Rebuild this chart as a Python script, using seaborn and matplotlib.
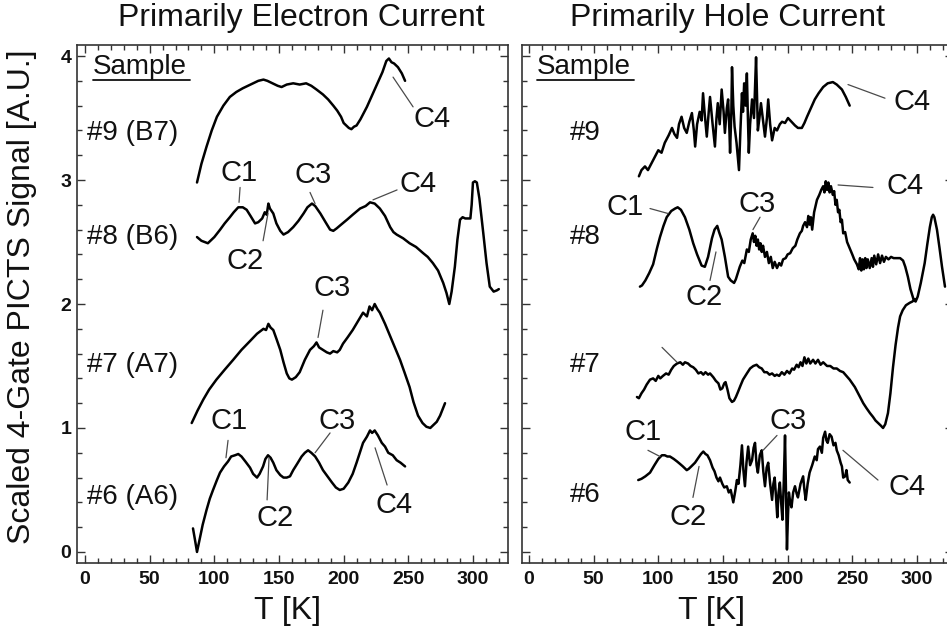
import numpy as np
import matplotlib
matplotlib.use("Agg")
import matplotlib.pyplot as plt
from matplotlib.ticker import MultipleLocator
import seaborn as sns

sns.set_style("ticks")
plt.rcParams['font.family'] = ['Liberation Sans', 'DejaVu Sans']

# ---------------- data (T [K], scaled signal) ----------------
panel_titles = ["Primarily Electron Current", "Primarily Hole Current"]
x_ticks = [0, 50, 100, 150, 200, 250, 300]
y_ticks = [0, 1, 2, 3, 4]
left_samples = ["#9 (B7)", "#8 (B6)", "#7 (A7)", "#6 (A6)"]
right_samples = ["#9", "#8", "#7", "#6"]

# Primarily electron current
e9 = [(86.6, 2.98), (90, 3.13), (94, 3.27), (98, 3.40), (102, 3.51), (107, 3.60), (112, 3.67),
      (117, 3.71), (122, 3.74), (128, 3.77), (134, 3.80), (138, 3.81), (141, 3.80), (145, 3.78),
      (149, 3.76), (152, 3.75), (156, 3.77), (161, 3.78), (166, 3.77), (171, 3.78), (175, 3.76),
      (179, 3.73), (184, 3.69), (188, 3.65), (192, 3.60), (195, 3.56), (198, 3.51), (200, 3.46),
      (202, 3.44), (204, 3.42), (206, 3.41), (208, 3.43), (210, 3.44), (213, 3.49), (216, 3.55),
      (218, 3.59), (221, 3.66), (224, 3.73), (227, 3.80), (230, 3.87), (233, 3.96), (235, 3.98),
      (237, 3.95), (239, 3.94), (242, 3.91), (245, 3.86), (247.5, 3.80)]
e8 = [(86.6, 2.54), (90, 2.51), (95, 2.49), (100, 2.54), (104.5, 2.60), (108, 2.65), (112, 2.70),
      (115, 2.74), (118.5, 2.78), (122, 2.78), (125, 2.76), (128, 2.71), (131.5, 2.65), (134, 2.66),
      (137, 2.69), (139, 2.74), (140.5, 2.72), (141.8, 2.81), (143, 2.77), (145.6, 2.73), (148, 2.65),
      (151, 2.59), (153.5, 2.56), (157, 2.58), (161, 2.62), (165, 2.67), (169, 2.73), (172, 2.78),
      (175.5, 2.81), (178, 2.79), (182, 2.73), (186, 2.66), (189.5, 2.60), (192, 2.59), (194.6, 2.61),
      (198, 2.64), (202.6, 2.68), (207, 2.72), (212.7, 2.77), (217, 2.79), (220.4, 2.82), (224, 2.81),
      (228, 2.77), (232, 2.71), (236, 2.62), (238.5, 2.58), (241, 2.56), (246, 2.53), (251, 2.49),
      (256, 2.46), (261.5, 2.41), (265, 2.38), (269, 2.33), (273, 2.27), (277, 2.17), (279.5, 2.09),
      (281.7, 2.00), (283.5, 2.10), (286, 2.30), (288, 2.52), (290, 2.68), (292, 2.70), (294, 2.69),
      (296, 2.69), (298, 2.69), (299, 2.80), (300, 2.98), (301.5, 2.99), (303, 2.98), (305, 2.85),
      (308, 2.57), (310.5, 2.33), (313, 2.14), (316, 2.10), (318.5, 2.11), (320, 2.12)]
e7 = [(82.5, 1.04), (87, 1.14), (91.5, 1.23), (96, 1.31), (101.6, 1.39), (108, 1.47), (114.6, 1.55),
      (121, 1.63), (127.5, 1.70), (133, 1.76), (138, 1.80), (140, 1.79), (141.8, 1.84), (143.5, 1.81),
      (145.6, 1.79), (148, 1.72), (151, 1.63), (153.5, 1.53), (156, 1.44), (158, 1.40), (160, 1.39),
      (163, 1.41), (166, 1.45), (170, 1.55), (174, 1.63), (177, 1.66), (179, 1.69), (181, 1.65),
      (184, 1.63), (187, 1.61), (189.5, 1.60), (192, 1.62), (195, 1.61), (197, 1.63), (199.5, 1.68),
      (203, 1.73), (207, 1.79), (211, 1.86), (215, 1.93), (218, 1.90), (220, 1.98), (222, 1.95),
      (224, 2.00), (226, 1.96), (228, 1.93), (232, 1.84), (236, 1.74), (240, 1.64), (243.6, 1.55),
      (247, 1.45), (251, 1.33), (254, 1.21), (257.5, 1.10), (261, 1.04), (264, 1.01), (267, 1.00),
      (269, 1.02), (272, 1.05), (274.6, 1.10), (278.4, 1.20)]
e6 = [(83.5, 0.19), (85, 0.10), (86.6, 0.00), (88, 0.07), (89, 0.12), (91, 0.22), (94, 0.34),
      (96.5, 0.43), (99, 0.50), (102, 0.58), (104.4, 0.64), (107.5, 0.69), (110.6, 0.73), (113, 0.77),
      (116, 0.78), (118.5, 0.79), (121, 0.77), (124, 0.73), (127.6, 0.68), (130, 0.63), (133, 0.60),
      (135, 0.63), (137.7, 0.69), (139.5, 0.75), (141.5, 0.78), (143.5, 0.76), (145.6, 0.72),
      (148, 0.66), (151, 0.62), (153.5, 0.60), (156, 0.60), (158.5, 0.61), (161, 0.66), (164, 0.71),
      (167.5, 0.77), (170, 0.80), (172.5, 0.82), (175, 0.80), (178, 0.77), (181, 0.72), (184, 0.66),
      (187.5, 0.61), (191, 0.56), (194, 0.52), (197, 0.50), (200, 0.51), (203.6, 0.56), (207, 0.63),
      (210, 0.72), (212.5, 0.80), (215, 0.88), (218, 0.93), (220.4, 0.98), (222, 0.96), (224, 0.98),
      (226.5, 0.94), (229.5, 0.88), (232, 0.85), (234.5, 0.80), (238, 0.78), (241, 0.74), (244, 0.72),
      (247.5, 0.69)]

# Primarily hole current
h9 = [(85, 3.03), (87, 3.08), (89.7, 3.11), (92, 3.08), (95, 3.14), (97.5, 3.19), (100, 3.24),
      (102.5, 3.22), (105, 3.30), (108, 3.36), (110.6, 3.42), (112.5, 3.37), (114.5, 3.34),
      (116, 3.45), (118, 3.51), (120, 3.42), (122, 3.38), (124, 3.47), (126, 3.54), (127.5, 3.40),
      (128.5, 3.27), (130, 3.45), (132, 3.55), (133.5, 3.48), (134.6, 3.70), (136, 3.52),
      (137.5, 3.35), (139, 3.55), (140, 3.67), (142, 3.45), (143.8, 3.27), (145, 3.50), (146, 3.62),
      (147.5, 3.45), (149, 3.73), (150.5, 3.55), (151.5, 3.38), (153, 3.58), (154, 3.65),
      (155, 3.40), (155.5, 3.22), (156.5, 3.55), (157, 3.91), (158, 3.60), (159, 3.43),
      (160.5, 3.30), (162.4, 3.08), (163.5, 3.40), (164.7, 3.70), (165.5, 3.55), (166.4, 3.78),
      (167.5, 3.60), (168.5, 3.86), (169.3, 3.50), (170, 3.22), (171, 3.45), (172.5, 3.65),
      (174, 3.50), (175.6, 3.99), (176.3, 3.70), (177, 3.40), (178.2, 3.50), (179.4, 3.62),
      (181, 3.48), (182.5, 3.35), (184, 3.50), (185, 3.65), (186.5, 3.45), (188, 3.32), (190, 3.42),
      (191.8, 3.40), (194, 3.45), (195.7, 3.47), (198, 3.46), (200.3, 3.50), (203, 3.47),
      (205.7, 3.44), (208, 3.42), (211, 3.42), (213, 3.46), (215, 3.51), (218, 3.58), (221, 3.65),
      (224, 3.70), (227.5, 3.75), (231, 3.78), (235, 3.79), (238, 3.77), (242, 3.73), (245, 3.67),
      (248, 3.60)]
h8 = [(85.8, 2.14), (87.4, 2.15), (90, 2.19), (93, 2.25), (96, 2.32), (99, 2.45), (101.3, 2.54),
      (104, 2.63), (106.5, 2.70), (110, 2.75), (113, 2.77), (115, 2.78), (117.5, 2.76), (120.6, 2.70),
      (124, 2.60), (127, 2.49), (130, 2.40), (133.5, 2.31), (136, 2.30), (138.5, 2.38), (141.5, 2.53),
      (143.5, 2.60), (145.6, 2.63), (147, 2.58), (149, 2.52), (151.5, 2.38), (154, 2.22), (156, 2.19),
      (158.6, 2.17), (160, 2.20), (163, 2.30), (165, 2.35), (166.5, 2.33), (168.5, 2.44), (170, 2.42),
      (171.5, 2.52), (173, 2.57), (174, 2.50), (175, 2.55), (176, 2.47), (177, 2.52), (178, 2.44),
      (179, 2.49), (180, 2.42), (181, 2.47), (182.5, 2.38), (184, 2.42), (185.5, 2.33), (187, 2.38),
      (188.5, 2.29), (190, 2.34), (191.8, 2.29), (193.5, 2.33), (195, 2.31), (196.5, 2.36),
      (198.5, 2.37), (200, 2.40), (202, 2.41), (204, 2.45), (206, 2.47), (207.5, 2.52), (209.5, 2.57),
      (211, 2.59), (212, 2.63), (213.5, 2.66), (215, 2.62), (216, 2.71), (217, 2.64), (218, 2.70),
      (219, 2.60), (220.5, 2.74), (222.7, 2.84), (224.5, 2.88), (226, 2.92), (227.5, 2.95),
      (228.5, 2.90), (229.5, 2.99), (230.5, 2.92), (231.5, 2.98), (232.5, 2.90), (233.5, 2.95),
      (235, 2.88), (236, 2.91), (237, 2.80), (238, 2.84), (239, 2.74), (240, 2.76), (241, 2.66),
      (242, 2.68), (243, 2.57), (244.5, 2.58), (246, 2.50), (248, 2.45), (250, 2.40), (251.5, 2.36),
      (253.6, 2.32), (255, 2.28), (256, 2.37), (257, 2.27), (258, 2.36), (259, 2.28), (260, 2.37),
      (261, 2.29), (262, 2.36), (263.5, 2.29), (265, 2.37), (266, 2.30), (267, 2.39), (268.5, 2.32),
      (270, 2.40), (271.5, 2.33), (273, 2.39), (274.5, 2.34), (276, 2.38), (278, 2.36), (280, 2.38),
      (282, 2.37), (284.6, 2.37), (287, 2.37), (289.3, 2.35), (291, 2.30), (293, 2.22), (295, 2.12),
      (297.6, 2.03), (299, 2.02), (300.6, 2.06), (303, 2.17), (306, 2.33), (308, 2.48), (310, 2.62),
      (311.5, 2.70), (312.5, 2.72), (313.5, 2.70), (315.5, 2.60), (317.5, 2.45), (319.4, 2.30),
      (321.7, 2.14)]
h7 = [(83.5, 1.25), (85, 1.24), (87, 1.28), (89, 1.31), (91, 1.35), (93.6, 1.39), (96, 1.40),
      (98, 1.38), (100, 1.42), (101.5, 1.40), (103.6, 1.42), (106, 1.44), (108, 1.43), (110, 1.47),
      (112, 1.50), (114.5, 1.52), (117, 1.53), (119, 1.51), (120.6, 1.53), (123, 1.52), (125, 1.50),
      (127, 1.49), (129, 1.47), (131, 1.44), (133, 1.45), (134.8, 1.43), (136.5, 1.45), (138.5, 1.43),
      (140, 1.44), (142.5, 1.41), (144.5, 1.38), (146.5, 1.36), (148, 1.31), (149.5, 1.32),
      (151, 1.36), (152, 1.37), (153.5, 1.31), (155, 1.24), (157, 1.21), (158.5, 1.22), (160, 1.25),
      (161.6, 1.29), (163.5, 1.34), (165.5, 1.39), (168.5, 1.44), (171, 1.48), (173.5, 1.50),
      (176, 1.51), (178, 1.49), (180, 1.48), (182, 1.45), (184, 1.45), (186, 1.43), (188, 1.44),
      (190, 1.42), (191.6, 1.43), (193.5, 1.42), (195.5, 1.45), (197.5, 1.43), (199.5, 1.46),
      (201.5, 1.44), (203.5, 1.48), (205, 1.47), (207, 1.51), (208.5, 1.49), (210, 1.53), (211.5, 1.50),
      (213, 1.57), (214.5, 1.52), (216, 1.56), (217.5, 1.52), (219.7, 1.55), (221.5, 1.52),
      (223.5, 1.55), (225.5, 1.51), (227.5, 1.53), (230.5, 1.50), (233, 1.50), (235.5, 1.48),
      (238, 1.48), (240.5, 1.46), (243, 1.45), (245.5, 1.42), (248, 1.39), (250, 1.36), (252, 1.33),
      (254, 1.29), (256, 1.25), (258.5, 1.20), (261, 1.16), (263.7, 1.12), (266, 1.09), (268, 1.06),
      (270, 1.04), (272, 1.02), (273.8, 1.00), (275.5, 1.03), (277.6, 1.12), (279.5, 1.28),
      (281.5, 1.49), (283.5, 1.67), (285.4, 1.81), (287, 1.90), (289, 1.95), (291.5, 1.99),
      (294.5, 2.01), (296.5, 2.02), (298.5, 2.04)]
h6 = [(84.5, 0.58), (87, 0.59), (90, 0.61), (93.6, 0.64), (97, 0.70), (100, 0.75), (102.8, 0.78),
      (105, 0.78), (107, 0.77), (109, 0.77), (112, 0.75), (114.5, 0.73), (116.8, 0.71), (119, 0.69),
      (121, 0.67), (122, 0.66), (123.5, 0.67), (125.5, 0.69), (128.4, 0.72), (131, 0.76), (133, 0.79),
      (134.8, 0.81), (136.5, 0.79), (138, 0.78), (140, 0.74), (142, 0.68), (143.5, 0.65), (145, 0.60),
      (146.5, 0.57), (147.7, 0.60), (149.5, 0.55), (151, 0.52), (153, 0.53), (154.5, 0.48),
      (156, 0.50), (158, 0.40), (159.5, 0.49), (160.8, 0.58), (162, 0.55), (163.5, 0.70),
      (164.7, 0.86), (165.8, 0.66), (167, 0.53), (168.2, 0.72), (169.5, 0.85), (171, 0.70),
      (172.5, 0.74), (173.7, 0.84), (174.8, 0.88), (176, 0.70), (177, 0.64), (178.5, 0.78),
      (180, 0.82), (181.2, 0.65), (182.5, 0.53), (183.8, 0.68), (185, 0.72), (186.5, 0.55),
      (188, 0.42), (189, 0.55), (190, 0.60), (191, 0.45), (192, 0.28), (193, 0.48), (194, 0.56),
      (195, 0.40), (196, 0.26), (197, 0.55), (198, 0.94), (198.8, 0.45), (199.5, 0.02), (200.3, 0.30),
      (201, 0.48), (202, 0.40), (203, 0.36), (204.3, 0.48), (205.7, 0.53), (207, 0.47), (208, 0.44),
      (210, 0.55), (212, 0.61), (213, 0.50), (214, 0.42), (215.5, 0.55), (217, 0.64), (219, 0.70),
      (221, 0.77), (222.5, 0.74), (223.5, 0.83), (225, 0.85), (226.5, 0.80), (227.5, 0.92),
      (229, 0.97), (230, 0.90), (231, 0.88), (232.5, 0.95), (234, 0.93), (235.5, 0.86), (237, 0.88),
      (238, 0.82), (239.5, 0.78), (241, 0.72), (242, 0.69), (243, 0.60), (244.5, 0.61),
      (245.5, 0.66), (246.5, 0.58), (248, 0.56)]

electron_curves = [e9, e8, e7, e6]
hole_curves = [h9, h8, h7, h6]

# ---------------- figure ----------------
W, H = 947, 634
fig = plt.figure(figsize=(W / 100, H / 100), dpi=100)
fig.patch.set_facecolor('white')

def ax_rect(left_px, top_px, w_px, h_px):
    return [left_px / W, (H - top_px - h_px) / H, w_px / W, h_px / H]

ax1 = fig.add_axes(ax_rect(77, 45, 431, 518))
ax2 = fig.add_axes(ax_rect(522, 45, 431, 518))

TXT = '#111111'
LINE_C = '#4a4a4a'

for ax, curves in ((ax1, electron_curves), (ax2, hole_curves)):
    for c in curves:
        arr = np.array(c)
        sns.lineplot(x=arr[:, 0], y=arr[:, 1], ax=ax, color='black', lw=1.8,
                     estimator=None, sort=False)

ax1.set_xlim(-6.2, 327.1)
ax2.set_xlim(-5.4, 327.9)
for ax in (ax1, ax2):
    ax.set_ylim(-0.089, 4.089)
    ax.set_xticks(x_ticks)
    ax.set_yticks(y_ticks)
    ax.xaxis.set_minor_locator(MultipleLocator(10))
    ax.yaxis.set_minor_locator(MultipleLocator(0.2))
    ax.tick_params(which='both', direction='in', top=True, right=True,
                   color='#333333', width=1.0)
    ax.tick_params(which='major', length=6)
    ax.tick_params(which='minor', length=3.5)
    ax.tick_params(axis='x', which='major', labelsize=14, pad=6, labelcolor=TXT)
    ax.tick_params(axis='y', which='major', labelsize=14, pad=4, labelcolor=TXT)
    for lab in ax.get_xticklabels() + ax.get_yticklabels():
        lab.set_fontweight('bold')
    for s in ax.spines.values():
        s.set_linewidth(1.2)
        s.set_color('#333333')
    ax.set_xlabel('')
    ax.set_ylabel('')
ax2.tick_params(axis='y', labelleft=False)

# titles and axis labels
fig.text(301 / W, 1 - 18 / H, panel_titles[0], ha='center', va='center', fontsize=23, color=TXT)
fig.text(727 / W, 1 - 18 / H, panel_titles[1], ha='center', va='center', fontsize=23, color=TXT)
fig.text(288 / W, 1 - 611 / H, 'T [K]', ha='center', va='center', fontsize=23, color=TXT)
fig.text(712 / W, 1 - 611 / H, 'T [K]', ha='center', va='center', fontsize=23, color=TXT)
fig.text(22 / W, 1 - 297 / H, 'Scaled 4-Gate PICTS Signal [A.U.]', ha='center', va='center',
         rotation=90, fontsize=23, color=TXT)

# "Sample" headers with underline
for ax, x0 in ((ax1, 0.037), (ax2, 0.035)):
    ax.text(x0, 0.958, 'Sample', transform=ax.transAxes, ha='left', va='center',
            fontsize=20, color=TXT)
    ax.plot([x0, x0 + 0.225], [0.932, 0.932], transform=ax.transAxes, color=TXT, lw=1.3)

sample_y = [3.38, 2.54, 1.51, 0.44]
for lab, yy in zip(left_samples, sample_y):
    ax1.text(1.5, yy, lab, ha='left', va='center', fontsize=20, color=TXT)
for lab, yy in zip(right_samples, [3.38, 2.54, 1.51, 0.46]):
    ax2.text(31.7, yy, lab, ha='left', va='center', fontsize=20, color=TXT)

def callout(ax, text, txy, p0, p1):
    if text:
        ax.text(txy[0], txy[1], text, ha='center', va='center', fontsize=21, color=TXT)
    ax.annotate('', xy=p1, xytext=p0,
                arrowprops=dict(arrowstyle='-', color=LINE_C, lw=0.9, shrinkA=0, shrinkB=0))

# electron panel callouts
callout(ax1, 'C4', (268.4, 3.49), (253.7, 3.59), (238.2, 3.83))
callout(ax1, 'C1', (119.1, 3.06), (119.9, 2.94), (119.1, 2.82))
callout(ax1, 'C3', (176.3, 3.04), (174.0, 2.90), (177.9, 2.81))
callout(ax1, 'C4', (257.5, 2.97), (241.3, 2.92), (222.7, 2.84))
callout(ax1, 'C2', (123.7, 2.35), (137.7, 2.51), (141.5, 2.73))
callout(ax1, 'C3', (191.0, 2.13), (184.0, 1.95), (180.2, 1.73))
callout(ax1, 'C1', (111.4, 1.06), (110.6, 0.90), (109.0, 0.76))
callout(ax1, 'C3', (194.9, 1.06), (189.5, 0.96), (177.9, 0.80))
callout(ax1, 'C2', (147.0, 0.27), (140.8, 0.42), (142.3, 0.76))
callout(ax1, 'C4', (239.0, 0.38), (233.6, 0.54), (224.3, 0.84))

# hole panel callouts
callout(ax2, 'C4', (296.2, 3.63), (275.3, 3.66), (246.7, 3.77))
callout(ax2, 'C1', (74.2, 2.78), (93.6, 2.77), (107.5, 2.73))
callout(ax2, 'C3', (176.3, 2.81), (178.7, 2.70), (173.2, 2.60))
callout(ax2, 'C4', (290.8, 2.95), (266.0, 2.94), (239.0, 2.96))
callout(ax2, 'C2', (135.3, 2.06), (140.0, 2.19), (144.6, 2.42))
callout(ax2, '', None, (102.9, 1.65), (114.5, 1.53))
callout(ax2, 'C1', (88.2, 0.97), (92.0, 0.82), (101.3, 0.77))
callout(ax2, 'C3', (200.3, 1.06), (191.8, 0.94), (181.0, 0.82))
callout(ax2, 'C2', (123.0, 0.28), (126.8, 0.44), (131.5, 0.69))
callout(ax2, 'C4', (292.3, 0.52), (269.9, 0.58), (242.8, 0.82))

fig.savefig('out.png', dpi=100, facecolor='white')
